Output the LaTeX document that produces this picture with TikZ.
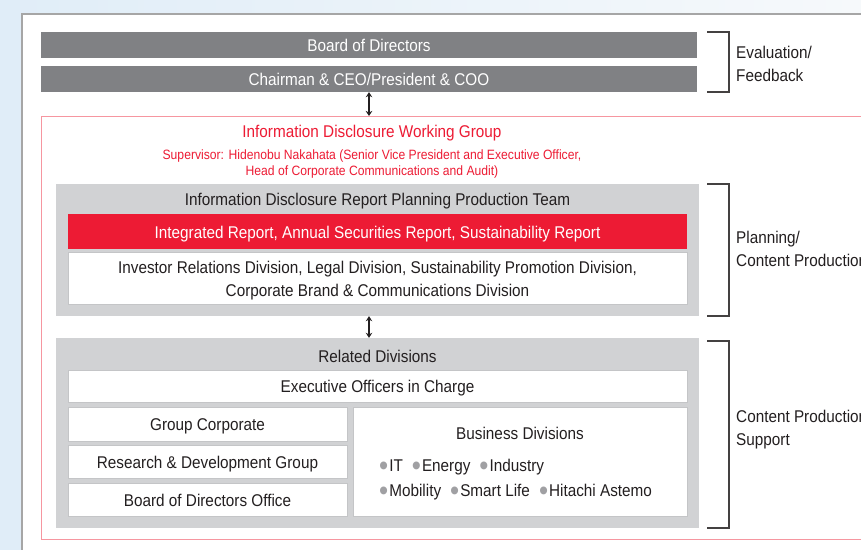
\documentclass[tikz,border=0pt]{standalone}
\usepackage{fontspec}
\setmainfont{Liberation Sans}[FakeStretch=0.9]
\usetikzlibrary{arrows.meta}

\definecolor{barra}{RGB}{128,129,132}
\definecolor{rosso}{RGB}{237,27,52}
\definecolor{rosa}{RGB}{246,150,160}
\definecolor{grigio}{RGB}{209,210,212}
\definecolor{bordo}{RGB}{196,197,199}
\definecolor{testo}{RGB}{35,31,32}
\definecolor{cielo}{RGB}{224,237,248}
\definecolor{cielochiaro}{RGB}{246,249,251}

\newcommand{\pallino}{{\color{barra!75}\raisebox{-3.3pt}{\scalebox{1.7}{•}}}\hspace{1pt}}

\begin{document}
\begin{tikzpicture}[x=1pt,y=-1pt,
    testonormale/.style={font=\fontsize{17}{23}\selectfont, text=testo},
    riga/.style={text height=14pt, text depth=1pt},
    barrascura/.style={fill=barra, text=white, inner sep=0pt, minimum width=656,
      minimum height=26, font=\fontsize{17}{20}\selectfont, riga},
    cassagrigia/.style={fill=grigio, inner sep=0pt, minimum width=643},
    cassabianca/.style={fill=white, draw=bordo, line width=0.8pt, inner sep=0pt,
      testonormale, align=center},
    freccia/.style={{Stealth[length=5pt,width=6.5pt]}-{Stealth[length=5pt,width=6.5pt]},
      line width=1.3pt, draw=testo},
    parentesi/.style={draw=testo!85, line width=1.1pt},
    etichetta/.style={testonormale, anchor=west, align=left, inner sep=0pt}]

\useasboundingbox (0,0) rectangle (861,549);

% sfondo
\shade[left color=cielo, right color=cielochiaro] (0,0) rectangle (861,549);
\fill[white] (22,14) rectangle (870,560);
\draw[gray!70, line width=1.3pt] (22,560) -- (22,14) -- (870,14);

% consiglio e presidenza
\node[barrascura] (board) at (369,45) {Board of Directors};
\node[barrascura] (chair) at (369,79) {Chairman \& CEO/President \& COO};

% gruppo di lavoro
\node[draw=rosa, line width=0.8pt, inner sep=0pt, minimum width=839, minimum height=423,
  anchor=north west] (wg) at (41,116) {};
\node[text=rosso, font=\fontsize{17}{20}\selectfont] (wgtitle) at (372,133)
  {Information Disclosure Working Group};
\node[text=rosso, font=\fontsize{13.5}{16}\selectfont, align=center] (supervisor) at (372,164)
  {Supervisor: Hidenobu Nakahata (Senior Vice President and Executive Officer,\\
   Head of Corporate Communications and Audit)};

% team di pianificazione
\node[cassagrigia, minimum height=132] (team) at (377.5,250) {};
\node[testonormale] (teamtitle) at (377.5,201)
  {Information Disclosure Report Planning Production Team};
\node[fill=rosso, text=white, inner sep=0pt, minimum width=619, minimum height=35,
  font=\fontsize{17}{20}\selectfont, riga] (reports) at (377.5,231.5)
  {Integrated Report, Annual Securities Report, Sustainability Report};
\node[cassabianca, minimum width=619, minimum height=52] (divs) at (377.5,278)
  {\rule{0pt}{18pt}Investor Relations Division, Legal Division, Sustainability Promotion Division,\\
   Corporate Brand \& Communications Division};

% divisioni collegate
\node[cassagrigia, minimum height=190] (related) at (377.5,433) {};
\node[testonormale] (reltitle) at (377.5,356) {Related Divisions};
\node[cassabianca, riga, minimum width=619, minimum height=32] (exec) at (377.5,386)
  {Executive Officers in Charge};
\node[cassabianca, riga, minimum width=279, minimum height=34] (groupcorp) at (207.5,424)
  {Group Corporate};
\node[cassabianca, riga, minimum width=279, minimum height=33] (rnd) at (207.5,461.5)
  {Research \& Development Group};
\node[cassabianca, riga, minimum width=279, minimum height=33] (bdoffice) at (207.5,499.5)
  {Board of Directors Office};
\node[cassabianca, minimum width=334, minimum height=109] (business) at (520,461.5) {};
\node[testonormale] (bustitle) at (520,433) {Business Divisions};
\node[font=\fontsize{17}{25}\selectfont, text=testo, anchor=west, align=left,
  inner sep=0pt] (buslist) at (379,480)
  {\pallino IT\hspace{9pt}\pallino Energy\hspace{9pt}\pallino Industry\\
   \pallino Mobility\hspace{9pt}\pallino Smart Life\hspace{9pt}\pallino Hitachi Astemo};

% frecce
\draw[freccia] (chair.south) -- (chair.south |- wg.north);
\draw[freccia] (team.south -| chair.south) -- (related.north -| chair.south);

% parentesi ed etichette
\draw[parentesi] (707,32) -- (729,32) -- (729,92) -- (707,92);
\node[etichetta] (evaluation) at (736,64) {Evaluation/\\Feedback};
\draw[parentesi] (707,184) -- (729,184) -- (729,316) -- (707,316);
\node[etichetta] (planning) at (736,249) {Planning/\\Content Production};
\draw[parentesi] (707,341) -- (729,341) -- (729,528) -- (707,528);
\node[etichetta] (support) at (736,430) {Content Production\\Support};

\end{tikzpicture}
\end{document}
